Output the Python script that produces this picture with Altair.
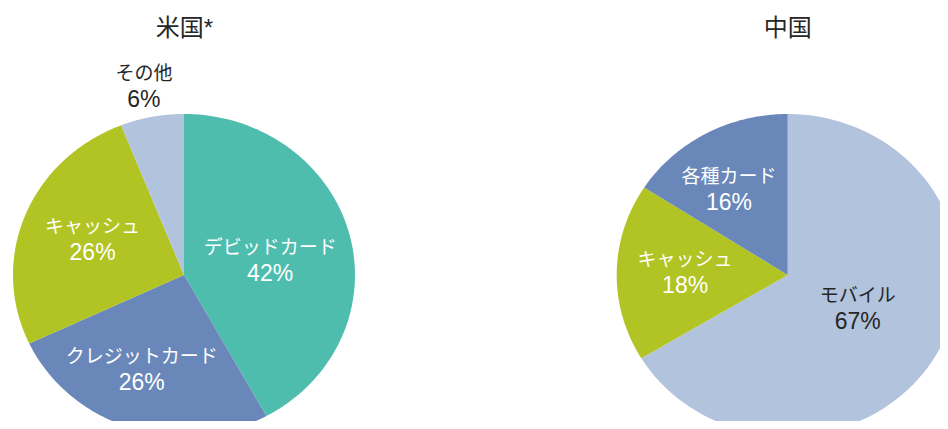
import altair as alt
import pandas as pd

# --- data ---
titles = ["米国*", "中国"]
us_categories = ["デビッドカード", "クレジットカード", "キャッシュ", "その他"]
us_values = [42, 26, 26, 6]
cn_categories = ["モバイル", "キャッシュ", "各種カード"]
cn_values = [67, 18, 16]

color_domain = ["デビッドカード", "クレジットカード", "キャッシュ", "その他", "モバイル", "各種カード"]
color_range = ["#4FBDAE", "#6987B9", "#B1C423", "#B2C3DD", "#B2C3DD", "#6987B9"]

FONT = "Liberation Sans, Noto Sans CJK JP"
DARK = "#262626"
W, H = 932, 413
RX, RY = 171, 161
STEPS = 90

color_scale = alt.Scale(domain=color_domain, range=color_range)
x_scale = alt.Scale(domain=[0, W], nice=False, zero=False)
y_scale = alt.Scale(domain=[0, H], nice=False, zero=False, reverse=True)

# label placement (fraction of radius along the slice's mid-angle), layout only
US_LABEL_K = {"デビッドカード": (0.52, 0.34), "クレジットカード": (0.8, 0.62),
              "キャッシュ": (0.575, 0.59), "その他": (1.25, 1.19)}
CN_LABEL_K = {"モバイル": (0.47, 0.43), "キャッシュ": (0.6, 0.6), "各種カード": (0.72, 0.6)}


def k_expr(kmap, i):
    expr = "0.6"
    for cat, k in kmap.items():
        expr = f"(datum.cat == '{cat}' ? {k[i]} : {expr})"
    return expr


def make_df(cats, vals):
    return pd.DataFrame({
        "cat": cats,
        "value": vals,
        "idx": list(range(len(cats))),
        "pct": [f"{v}%" for v in vals],
    })


def angles(chart):
    return chart.transform_joinaggregate(
        total="sum(value)"
    ).transform_window(
        cum="sum(value)", sort=[alt.SortField("idx")], frame=[None, 0]
    ).transform_calculate(
        a0="2*PI*(datum.cum - datum.value)/datum.total",
        a1="2*PI*datum.cum/datum.total",
    )


def pie_layers(df, cx, cy, kmap, white_cats, dark_cats):
    wedges = angles(alt.Chart(df)).transform_calculate(
        s=f"sequence(-1, {STEPS + 1})"
    ).transform_flatten(["s"]).transform_calculate(
        ang=f"datum.a0 + (datum.a1 - datum.a0) * max(datum.s, 0) / {STEPS}",
        rr="datum.s < 0 ? 0 : 1",
    ).transform_calculate(
        px=f"{cx} + datum.rr * {RX} * sin(datum.ang)",
        py=f"{cy} - datum.rr * {RY} * cos(datum.ang)",
    ).mark_line(filled=True, interpolate="linear").encode(
        x=alt.X("px:Q", scale=x_scale, axis=None),
        y=alt.Y("py:Q", scale=y_scale, axis=None),
        order=alt.Order("s:Q"),
        detail="cat:N",
        color=alt.Color("cat:N", scale=color_scale, legend=None),
    )
    layers = [wedges]
    lab = angles(alt.Chart(df)).transform_calculate(
        kx=k_expr(kmap, 0), ky=k_expr(kmap, 1),
        mid="(datum.a0 + datum.a1) / 2",
    ).transform_calculate(
        px=f"{cx} + datum.kx * {RX} * sin(datum.mid)",
        py=f"{cy} - datum.ky * {RY} * cos(datum.mid)",
    ).encode(
        x=alt.X("px:Q", scale=x_scale, axis=None),
        y=alt.Y("py:Q", scale=y_scale, axis=None),
    )
    for cats, col in [(white_cats, "white"), (dark_cats, DARK)]:
        if not cats:
            continue
        sub = lab.transform_filter(alt.FieldOneOfPredicate(field="cat", oneOf=cats))
        layers.append(sub.mark_text(
            fontSize=19, dy=-13, color=col, font=FONT, align="center", baseline="middle"
        ).encode(text="cat:N"))
        layers.append(sub.mark_text(
            fontSize=23, dy=13, color=col, font=FONT, align="center", baseline="middle"
        ).encode(text="pct:N"))
    return layers


us_df = make_df(us_categories, us_values)
cn_df = make_df(cn_categories, cn_values)

us_layers = pie_layers(us_df, 176, 267, US_LABEL_K,
                       ["デビッドカード", "クレジットカード", "キャッシュ"], ["その他"])
cn_layers = pie_layers(cn_df, 779.7, 267, CN_LABEL_K,
                       ["キャッシュ", "各種カード"], ["モバイル"])

title_df = pd.DataFrame({"t": titles})
us_title = alt.Chart(title_df).transform_filter(alt.datum.t == titles[0]).mark_text(
    fontSize=24, font=FONT, color=DARK, align="center", baseline="middle"
).encode(text="t:N", x=alt.value(176.5), y=alt.value(21))
cn_title = alt.Chart(title_df).transform_filter(alt.datum.t == titles[1]).mark_text(
    fontSize=24, font=FONT, color=DARK, align="center", baseline="middle"
).encode(text="t:N", x=alt.value(779.7), y=alt.value(21))

chart = alt.layer(*us_layers, *cn_layers, us_title, cn_title).properties(
    width=W, height=H, padding=0, autosize="none"
).configure_view(stroke=None)

chart.save("out.html", embed_options={"renderer": "svg", "actions": False})
